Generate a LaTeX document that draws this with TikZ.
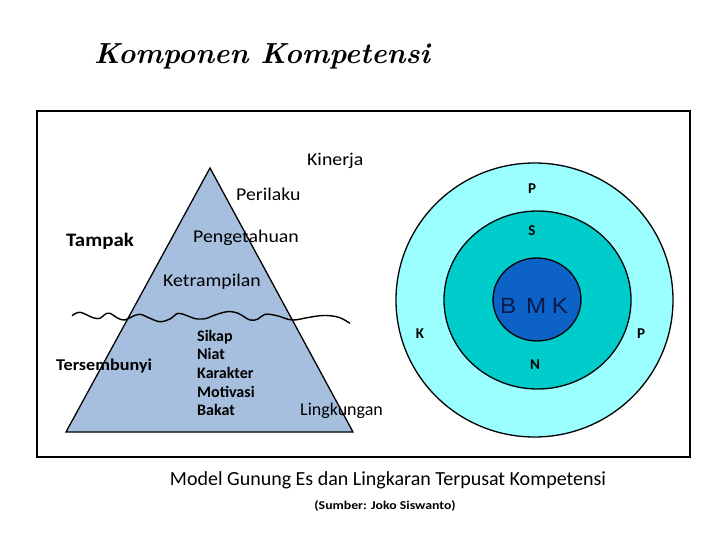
\documentclass[tikz,border=0pt]{standalone}
\usepackage{fontspec}
\setmainfont{Carlito}
\newfontfamily\widefont[FakeStretch=1.1]{Carlito}
\newfontfamily\srcfont[FakeStretch=1.15]{Carlito}
\newfontfamily\titlefont{Latin Modern Roman}
\newfontfamily\arialfont[FakeStretch=1.1]{Liberation Sans}
\definecolor{icecol}{HTML}{A7BFDE}
\definecolor{outercol}{HTML}{9CFFFF}
\definecolor{midcol}{HTML}{00CCCC}
\definecolor{innercol}{HTML}{0D62C8}
\definecolor{bmkcol}{HTML}{0A1A4A}
\begin{document}
\begin{tikzpicture}[x=1pt,y=-1pt,
  lbl/.style={inner sep=0pt,font=\widefont\fontsize{18}{21}\selectfont},
  blbl/.style={inner sep=0pt,font=\fontsize{16}{19}\selectfont\bfseries},
  clbl/.style={inner sep=0pt,font=\fontsize{15}{17}\selectfont\bfseries},
  ring/.style={draw=black,line width=1.3pt}]
\useasboundingbox (0,0) rectangle (720,540);
% title
\node[inner sep=0pt,anchor=base,font=\titlefont\fontsize{29}{32}\selectfont\bfseries\itshape] (title) at (262,64) {Komponen Kompetensi};
% frame
\draw[line width=2.3pt] (37,111) rectangle (690,457);
% iceberg
\filldraw[fill=icecol,draw=black,line width=1.3pt] (210,168) -- (353,432) -- (66,432) -- cycle;
\draw[line width=1.4pt] plot[smooth,tension=0.6] coordinates {(72,315.7) (80,312.3) (93,317.7) (100,318.3) (105,314.3) (110,313.3) (118,318.3) (125,320) (132,316.7) (140,314.3) (150,318.3) (160,321.7) (170,319) (178,313.3) (187,315.7) (197,319) (207,318.3) (213,315.7) (227,311.7) (238,313.3) (250,320) (258,319) (265,314.3) (277,315.7) (292,320) (307,317.7) (320,315.7) (330,315.7) (340,317.7) (350,323.3)};
% iceberg labels
\node[lbl,anchor=base west] (kinerja) at (307,166) {Kinerja};
\node[lbl,anchor=base west] (perilaku) at (236,201) {Perilaku};
\node[lbl,anchor=base west] (penget) at (193,243) {Pengetahuan};
\node[lbl,anchor=base west] (ketr) at (163,286) {Ketrampilan};
\node[blbl,anchor=base west,font=\widefont\fontsize{19}{22}\selectfont\bfseries] (tampak) at (66,247) {Tampak};
\node[blbl,anchor=base west,font=\widefont\fontsize{16.5}{19}\selectfont\bfseries] (tersem) at (56,370) {Tersembunyi};
\node[blbl,anchor=base west] (sikap) at (197,341) {Sikap};
\node[blbl,anchor=base west] (niat) at (197,359.5) {Niat};
\node[blbl,anchor=base west] (karakter) at (197,378.5) {Karakter};
\node[blbl,anchor=base west] (motivasi) at (197,397) {Motivasi};
\node[blbl,anchor=base west] (bakat) at (197,415.5) {Bakat};
\node[inner sep=0pt,anchor=base west,font=\fontsize{18}{21}\selectfont] (lingk) at (300,415) {Lingkungan};
% concentric circles
\filldraw[ring,fill=outercol] (534.5,300) ellipse [x radius=138.5,y radius=137];
\filldraw[ring,fill=midcol] (537.5,300) ellipse [x radius=93.5,y radius=89];
\filldraw[ring,fill=innercol] (537,299.5) ellipse [x radius=44,y radius=41.5];
\node[inner sep=0pt,anchor=base,text=bmkcol,font=\arialfont\fontsize{22}{25}\selectfont] (bmk) at (534,313.5) {B\hspace{0.45em}M\hspace{0.25em}K};
\node[clbl,anchor=base] (ptop) at (532,194) {P};
\node[clbl,anchor=base] (stop) at (532,236) {S};
\node[clbl,anchor=base] (kleft) at (420,338) {K};
\node[clbl,anchor=base] (pright) at (641,338) {P};
\node[clbl,anchor=base] (nbot) at (535,369) {N};
% caption
\node[inner sep=0pt,anchor=base,font=\fontsize{20}{23}\selectfont] (cap) at (388,485) {Model Gunung Es dan Lingkaran Terpusat Kompetensi};
\node[inner sep=0pt,anchor=base,font=\srcfont\fontsize{12}{14}\selectfont\bfseries] (src) at (385,509) {(Sumber: Joko Siswanto)};
\end{tikzpicture}
\end{document}
